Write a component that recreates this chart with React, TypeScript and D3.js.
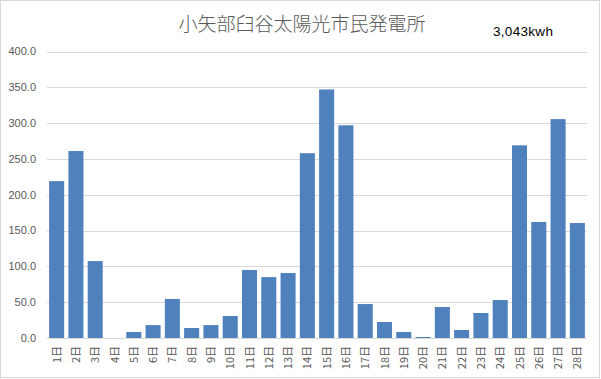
import React from "react";
import * as d3 from "d3";

const days: string[] = Array.from({ length: 28 }, (_, i) => `${i + 1}日`);
const values: number[] = [
  219, 261, 107.4, 0, 8.4, 18, 54.5, 14, 18, 30.7, 95, 85, 90.7, 258,
  347, 297, 47.4, 22.3, 8.4, 1.4, 43.3, 11.2, 34.9, 53, 269, 162, 305.6, 160.5,
];
const yTicks: number[] = [0, 50, 100, 150, 200, 250, 300, 350, 400];
const title = "小矢部臼谷太陽光市民発電所";
const total = "3,043kwh";

const W = 601;
const H = 379;
const left = 47;
const right = 587;
const top = 51.5;
const bottom = 338;

export default function App() {
  const x = d3.scaleBand<string>().domain(days).range([left, right]).paddingInner(0.22).paddingOuter(0.11);
  const y = d3.scaleLinear().domain([0, 400]).range([bottom, top]);
  const font = "'Liberation Sans', Arial, sans-serif";
  return (
    <svg
      width={W}
      height={H}
      style={{ position: "absolute", left: 0, top: 0, background: "#fff" }}
    >
      <rect x={0.5} y={0.5} width={W - 2} height={H - 2} fill="#fff" stroke="#d9d9d9" />
      <text
        x={302}
        y={31}
        textAnchor="middle"
        fontSize={19}
        fill="#595959"
        fontFamily="'Noto Sans CJK JP', sans-serif"
        fontWeight={300}
      >
        {title}
      </text>
      <text x={493} y={36} fontSize={13.5} fill="#000" fontFamily={font} letterSpacing={0.3}>
        {total}
      </text>
      {yTicks.map((t) => (
        <g key={t}>
          <line x1={left} x2={right} y1={Math.round(y(t)) + 0.5} y2={Math.round(y(t)) + 0.5} stroke="#d9d9d9" strokeWidth={1} />
          <text x={36} y={y(t)} dy="0.35em" textAnchor="end" fontSize={11} fill="#595959" fontFamily={font}>
            {t.toFixed(1)}
          </text>
        </g>
      ))}
      {values.map((v, i) => (
        <rect
          key={days[i]}
          x={x(days[i])!}
          y={y(v)}
          width={x.bandwidth()}
          height={bottom - y(v)}
          fill="#4f81bd"
        />
      ))}
      {days.map((d) => {
        const cx = x(d)! + x.bandwidth() / 2;
        return (
          <text
            key={d}
            transform={`translate(${cx + 4},${346}) rotate(-90)`}
            textAnchor="end"
            fontSize={11}
            fill="#595959"
            fontFamily="'Noto Sans CJK JP', sans-serif"
          >
            {d}
          </text>
        );
      })}
    </svg>
  );
}
